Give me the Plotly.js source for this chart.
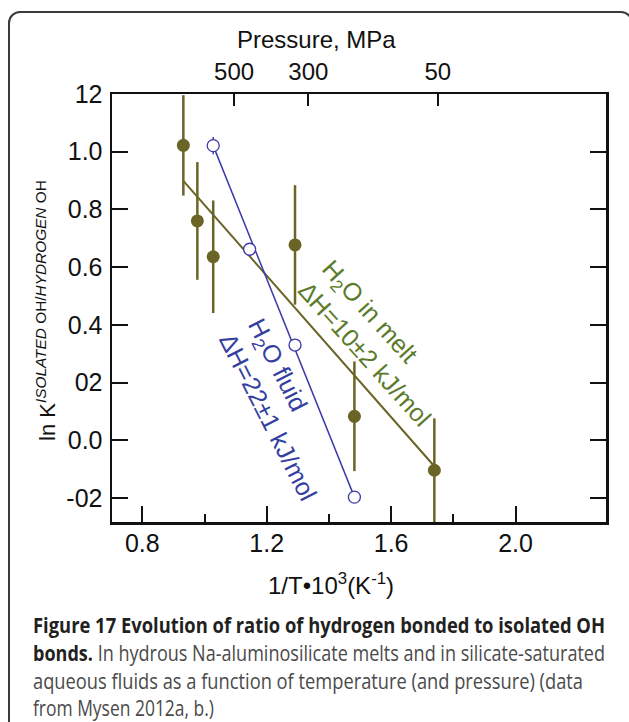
<!DOCTYPE html>
<html><head><meta charset="utf-8">
<script src="https://cdn.plot.ly/plotly-3.0.1.min.js"></script>
<style>
html,body{margin:0;padding:0;background:#fff;width:629px;height:722px;overflow:hidden;}
#frame{position:absolute;left:8px;top:11px;width:625px;height:760px;border:2px solid #3a3a3a;border-radius:12px;box-sizing:border-box;}
#chart{position:absolute;left:0;top:0;width:629px;height:722px;}
.cap{position:absolute;left:33px;white-space:nowrap;font-family:"Open Sans","Noto Sans",sans-serif;font-size:21px;line-height:21px;color:#4a4a4a;transform-origin:0 0;}
.cap b{color:#231f20;font-weight:700;}
</style></head>
<body>
<div id="frame"></div>
<div id="chart"></div>
<div class="cap" id="c1" data-w="572" style="top:615px"><b>Figure 17 Evolution of ratio of hydrogen bonded to isolated OH</b></div>
<div class="cap" id="c2" data-w="572" style="top:643px"><b>bonds.</b> In hydrous Na-aluminosilicate melts and in silicate-saturated</div>
<div class="cap" id="c3" data-w="550" style="top:671px">aqueous fluids as a function of temperature (and pressure) (data</div>
<div class="cap" id="c4" data-w="181" style="top:698px">from Mysen 2012a, b.)</div>
<script>
// ---- data ----
const meltX   = [0.932, 0.977, 1.028, 1.291, 1.482, 1.739];
const meltY   = [1.022, 0.760, 0.636, 0.677, 0.083, -0.104];
const meltErr = [0.174, 0.204, 0.195, 0.207, 0.190, 0.180];
const fluidX   = [1.028, 1.145, 1.291, 1.482];
const fluidY   = [1.021, 0.662, 0.330, -0.197];
const fluidErr = [0.030, 0, 0, 0];
const meltFitX  = [0.932, 1.739];
const meltFitY  = [0.899, -0.090];
const fluidFitX = [1.028, 1.482];
const fluidFitY = [1.021, -0.197];
const xTickVals   = [0.8, 1.2, 1.6, 2.0];
const xTickLabels = ["0.8", "1.2", "1.6", "2.0"];
const xMinorTicks = [1.0, 1.4, 1.8];
const yTickVals   = [1.2, 1.0, 0.8, 0.6, 0.4, 0.2, 0.0, -0.2];
const yTickLabels = ["12", "1.0", "0.8", "0.6", "0.4", "02", "0.0", "-02"];
const pressureTickX      = [1.095, 1.334, 1.750];
const pressureTickLabels = ["500", "300", "50"];

const olive = '#6a6426', green = '#5b7b2b', blue = '#3a3aa8', blueTxt = '#33409f';
const FONT = '"Liberation Sans", Arial, Helvetica, sans-serif';
const xRange = [0.7026, 2.2909], yRange = [-0.2833, 1.2];
const ink = '#111';

const traces = [
  {x: meltFitX, y: meltFitY, mode: 'lines', line: {color: olive, width: 2}, hoverinfo: 'skip'},
  {x: fluidFitX, y: fluidFitY, mode: 'lines', line: {color: blue, width: 1.5}, hoverinfo: 'skip'},
  {x: meltX, y: meltY, mode: 'markers', marker: {color: olive, size: 13},
   error_y: {type: 'data', array: meltErr, visible: true, color: olive, thickness: 2.5, width: 0}},
  {x: fluidX, y: fluidY, mode: 'markers', marker: {color: '#fff', size: 12, line: {color: blue, width: 1.3}},
   error_y: {type: 'data', array: fluidErr, visible: true, color: blue, thickness: 1.5, width: 0}},
  {x: pressureTickX, y: [null, null, null], xaxis: 'x2', mode: 'markers', marker: {opacity: 0}, hoverinfo: 'skip'},
  {x: [null], y: [null], yaxis: 'y2', mode: 'markers', marker: {opacity: 0}, hoverinfo: 'skip'}
];

const layout = {
  width: 629, height: 722,
  margin: {l: 112, r: 23, t: 94, b: 200},
  paper_bgcolor: 'rgba(0,0,0,0)', plot_bgcolor: 'rgba(0,0,0,0)',
  showlegend: false,
  font: {family: FONT, size: 24, color: ink},
  xaxis: {range: xRange, tickmode: 'array', tickvals: xTickVals, ticktext: xTickLabels,
    ticks: 'inside', ticklen: 16, tickwidth: 2, tickcolor: ink,
    showline: true, linewidth: 2.5, linecolor: ink, mirror: true,
    showgrid: false, zeroline: false, ticklabelstandoff: -3, tickfont: {size: 25, family: FONT, color: ink},
    minor: {tickvals: xMinorTicks, ticks: 'inside', ticklen: 8, tickwidth: 2, tickcolor: ink, showgrid: false}},
  xaxis2: {overlaying: 'x', side: 'top', range: xRange, tickmode: 'array',
    tickvals: pressureTickX, ticktext: pressureTickLabels,
    ticks: 'inside', ticklen: 12, tickwidth: 2, tickcolor: ink,
    showline: false, showgrid: false, zeroline: false, ticklabelstandoff: 8,
    tickfont: {size: 24, family: FONT, color: ink}},
  yaxis: {range: yRange, tickmode: 'array', tickvals: yTickVals, ticktext: yTickLabels,
    ticks: 'inside', ticklen: 16, tickwidth: 2, tickcolor: ink,
    showline: true, linewidth: 2.5, linecolor: ink, mirror: true,
    showgrid: false, zeroline: false, ticklabelstandoff: 2, tickfont: {size: 25, family: FONT, color: ink}},
  yaxis2: {overlaying: 'y', side: 'right', range: yRange, tickmode: 'array', tickvals: yTickVals,
    showticklabels: false, ticks: 'inside', ticklen: 16, tickwidth: 2, tickcolor: ink,
    showline: false, showgrid: false, zeroline: false},
  annotations: [
    {xref: 'paper', yref: 'paper', x: 0.4144, y: 1.1285, xanchor: 'center', yanchor: 'middle',
     text: 'Pressure, MPa', showarrow: false, font: {size: 24, family: FONT, color: ink}},
    {xref: 'paper', yref: 'paper', x: 0.4429, y: -0.1449, xanchor: 'center', yanchor: 'middle',
     text: '1/T•10<sup>3</sup>(K<sup>-1</sup>)', showarrow: false, font: {size: 24, family: FONT, color: ink}},
    {xref: 'paper', yref: 'paper', x: -0.1336, y: 0.493, xanchor: 'center', yanchor: 'middle', textangle: -90,
     text: 'ln K<sup><i>ISOLATED</i> OH/<i>HYDROGEN</i> OH</sup>', showarrow: false,
     font: {size: 22, family: FONT, color: ink}},
    {xref: 'x', yref: 'y', x: 1.556, y: 0.337, xanchor: 'center', yanchor: 'middle', textangle: 48, align: 'left',
     text: 'H<sub>2</sub>O in melt<br>ΔH=10±2 kJ/mol', showarrow: false,
     font: {size: 25, family: FONT, color: green}},
    {xref: 'x', yref: 'y', x: 1.25, y: 0.105, xanchor: 'center', yanchor: 'middle', textangle: 63, align: 'left',
     text: 'H<sub>2</sub>O fluid<br>ΔH=22±1 kJ/mol', showarrow: false,
     font: {size: 25, family: FONT, color: blueTxt}}
  ]
};

Plotly.newPlot('chart', traces, layout, {staticPlot: true, displayModeBar: false});

function fitCaption(){
  document.querySelectorAll('.cap').forEach(el => {
    el.style.transform = 'none';
    const w = el.getBoundingClientRect().width;
    const t = parseFloat(el.getAttribute('data-w'));
    if (w > 0) el.style.transform = 'scaleX(' + (t / w) + ')';
  });
}
fitCaption();
if (document.fonts && document.fonts.ready) document.fonts.ready.then(fitCaption);
</script>
</body></html>
